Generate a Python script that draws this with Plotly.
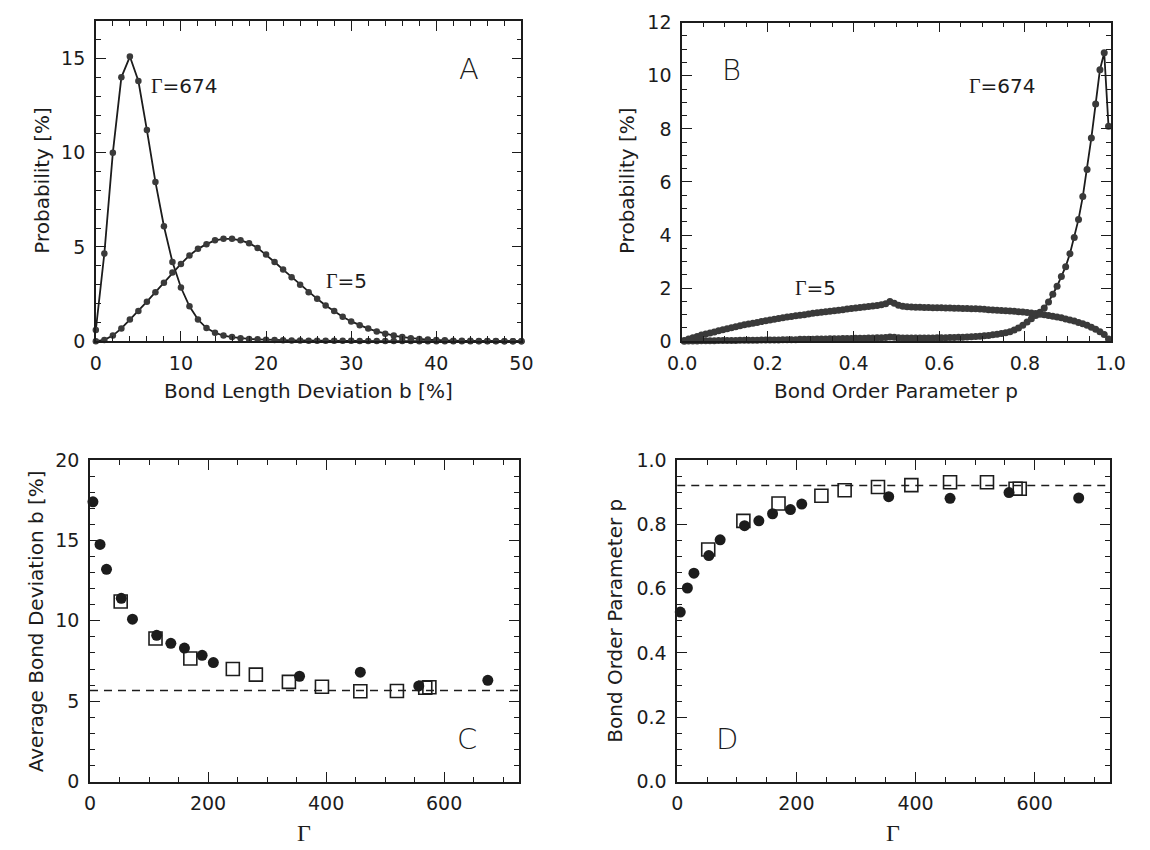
import plotly.graph_objects as go

# ---------------- data ----------------
# Panel A: bond length deviation histogram
b_dev = list(range(0, 51))
probA_674 = [0.6, 4.65, 10.0, 14.0, 15.1, 13.8, 11.2, 8.45, 6.1, 4.2,
             2.85, 1.85, 1.15, 0.7, 0.45, 0.3, 0.22, 0.16, 0.12, 0.1,
             0.08, 0.06, 0.05, 0.04, 0.04, 0.03, 0.03, 0.02, 0.02, 0.02,
             0.02, 0.01, 0.01, 0.01, 0.01, 0.01, 0.01, 0.01, 0.0, 0.0,
             0.0, 0.0, 0.0, 0.0, 0.0, 0.0, 0.0, 0.0, 0.0, 0.0,
             0.0]
probA_5 = [0.0, 0.07, 0.3, 0.68, 1.15, 1.6, 2.1, 2.6, 3.1, 3.65,
           4.1, 4.55, 4.9, 5.15, 5.35, 5.43, 5.43, 5.35, 5.2, 4.95,
           4.6, 4.2, 3.8, 3.4, 3.0, 2.6, 2.25, 1.9, 1.6, 1.3,
           1.05, 0.85, 0.67, 0.52, 0.4, 0.3, 0.22, 0.16, 0.12, 0.09,
           0.06, 0.05, 0.03, 0.02, 0.02, 0.01, 0.01, 0.01, 0.0, 0.0,
           0.0]

# Panel B: bond order parameter histogram (bin centres 0.005 ... 0.995)
p_bins = [round(0.005 + 0.01 * k, 3) for k in range(100)]
probB_674 = [0.00, 0.01, 0.01, 0.01, 0.02, 0.02, 0.02, 0.02, 0.03, 0.03,
             0.03, 0.03, 0.03, 0.04, 0.04, 0.04, 0.04, 0.04, 0.05, 0.05,
             0.05, 0.05, 0.05, 0.06, 0.06, 0.06, 0.06, 0.07, 0.07, 0.07,
             0.07, 0.08, 0.08, 0.08, 0.09, 0.09, 0.09, 0.10, 0.10, 0.10,
             0.11, 0.11, 0.11, 0.12, 0.12, 0.13, 0.13, 0.14, 0.16, 0.15,
             0.13, 0.12, 0.12, 0.12, 0.12, 0.12, 0.12, 0.12, 0.12, 0.13,
             0.13, 0.13, 0.14, 0.14, 0.15, 0.15, 0.16, 0.17, 0.18, 0.19,
             0.21, 0.22, 0.24, 0.26, 0.29, 0.32, 0.36, 0.42, 0.50, 0.60,
             0.72, 0.85, 0.97, 1.09, 1.25, 1.48, 1.77, 2.07, 2.44, 2.81,
             3.30, 3.91, 4.59, 5.45, 6.47, 7.66, 8.94, 10.23, 10.87, 8.10]
probB_5 = [0.03, 0.08, 0.13, 0.18, 0.23, 0.27, 0.31, 0.35, 0.39, 0.43,
           0.47, 0.51, 0.55, 0.58, 0.62, 0.65, 0.68, 0.71, 0.74, 0.77,
           0.80, 0.83, 0.86, 0.88, 0.91, 0.93, 0.96, 0.98, 1.00, 1.03,
           1.05, 1.07, 1.09, 1.11, 1.13, 1.15, 1.17, 1.19, 1.21, 1.23,
           1.25, 1.27, 1.29, 1.31, 1.33, 1.35, 1.37, 1.41, 1.50, 1.43,
           1.36, 1.32, 1.30, 1.29, 1.28, 1.28, 1.27, 1.27, 1.26, 1.26,
           1.26, 1.25, 1.25, 1.24, 1.24, 1.23, 1.23, 1.22, 1.22, 1.21,
           1.20, 1.19, 1.18, 1.17, 1.16, 1.15, 1.14, 1.13, 1.11, 1.10,
           1.08, 1.06, 1.04, 1.02, 1.00, 0.97, 0.94, 0.91, 0.88, 0.84,
           0.80, 0.76, 0.71, 0.66, 0.60, 0.53, 0.45, 0.36, 0.25, 0.08]

# Panels C and D: averages vs Gamma
gamma_circ = [5, 17, 28, 53, 72, 113, 137, 160, 190, 209, 355, 458, 557, 674]
bdev_circ = [17.4, 14.75, 13.2, 11.4, 10.1, 9.1, 8.6, 8.3, 7.85, 7.4, 6.55, 6.8, 5.95, 6.3]
order_circ = [0.527, 0.602, 0.648, 0.703, 0.752, 0.796, 0.811, 0.833, 0.846, 0.863, 0.886, 0.881, 0.899, 0.882]

gamma_sq = [52, 111, 170, 242, 281, 337, 393, 458, 520, 568, 575]
bdev_sq = [11.2, 8.9, 7.65, 7.0, 6.65, 6.2, 5.9, 5.62, 5.63, 5.83, 5.87]
order_sq = [0.722, 0.811, 0.865, 0.889, 0.906, 0.916, 0.922, 0.931, 0.931, 0.911, 0.911]

bdev_limit = 5.67
order_limit = 0.921

# ---------------- styling ----------------
W, H = 1150, 850
INK = "#1c1c1c"
MARK = "#3a3a3a"
SANS = "DejaVu Sans"
SERIF = "Liberation Serif"

boxes = {
    "A": dict(x=(83, 520), y=(10, 339)),
    "B": dict(x=(685, 1125), y=(12, 339)),
    "C": dict(x=(77, 517), y=(461, 791)),
    "D": dict(x=(680, 1124), y=(461, 791)),
}


def xdom(p):
    a, b = boxes[p]["x"]
    return [a / W, b / W]


def ydom(p):
    t, b = boxes[p]["y"]
    return [1 - b / H, 1 - t / H]


def axis(rng, dtick, minor, domain, anchor, fmt=None, standoff=5):
    d = dict(range=rng, dtick=dtick, tick0=0, domain=domain, anchor=anchor,
             showline=True, linecolor=INK, linewidth=1.6, mirror="allticks",
             ticks="inside", ticklen=10, tickwidth=1.4, tickcolor=INK,
             minor=dict(dtick=minor, tick0=0, ticks="inside", ticklen=5,
                        tickwidth=1.2, tickcolor=INK),
             showgrid=False, zeroline=False, ticklabelstandoff=standoff,
             tickfont=dict(family=SANS, size=19, color=INK))
    if fmt:
        d["tickformat"] = fmt
    return d


fig = go.Figure()

line_style = dict(color=INK, width=1.8)
dot_style = dict(size=6.5, color=MARK)
dense_dot = dict(size=7, color=MARK)

# Panel A
fig.add_trace(go.Scatter(x=b_dev, y=probA_674, mode="lines+markers", line=line_style,
                         marker=dot_style, xaxis="x", yaxis="y", cliponaxis=False))
fig.add_trace(go.Scatter(x=b_dev, y=probA_5, mode="lines+markers", line=line_style,
                         marker=dot_style, xaxis="x", yaxis="y", cliponaxis=False))
# Panel B
fig.add_trace(go.Scatter(x=p_bins, y=probB_674, mode="lines+markers", line=line_style,
                         marker=dense_dot, xaxis="x2", yaxis="y2", cliponaxis=False))
fig.add_trace(go.Scatter(x=p_bins, y=probB_5, mode="lines+markers", line=line_style,
                         marker=dense_dot, xaxis="x2", yaxis="y2", cliponaxis=False))
# Panel C
fig.add_trace(go.Scatter(x=gamma_circ, y=bdev_circ, mode="markers",
                         marker=dict(symbol="circle", size=11, color=INK),
                         xaxis="x3", yaxis="y3", cliponaxis=False))
fig.add_trace(go.Scatter(x=gamma_sq, y=bdev_sq, mode="markers",
                         marker=dict(symbol="square-open", size=13, color=INK,
                                     line=dict(width=1.6, color=INK)),
                         xaxis="x3", yaxis="y3", cliponaxis=False))
# Panel D
fig.add_trace(go.Scatter(x=gamma_circ, y=order_circ, mode="markers",
                         marker=dict(symbol="circle", size=11, color=INK),
                         xaxis="x4", yaxis="y4", cliponaxis=False))
fig.add_trace(go.Scatter(x=gamma_sq, y=order_sq, mode="markers",
                         marker=dict(symbol="square-open", size=13, color=INK,
                                     line=dict(width=1.6, color=INK)),
                         xaxis="x4", yaxis="y4", cliponaxis=False))

fig.add_shape(type="line", xref="x3 domain", yref="y3", x0=0, x1=1,
              y0=bdev_limit, y1=bdev_limit, line=dict(color=INK, width=1.5, dash="8px,6px"))
fig.add_shape(type="line", xref="x4 domain", yref="y4", x0=0, x1=1,
              y0=order_limit, y1=order_limit, line=dict(color=INK, width=1.5, dash="8px,6px"))


def px(x):
    return x / W


def py(y):
    return 1 - y / H


G = "<span style='font-family:%s'>Γ</span>" % SERIF
ann = []


def note(text, x, y, size=20, angle=0, xanchor="center", family=SANS, weight=None):
    f = dict(family=family, size=size, color=INK)
    if weight:
        f["weight"] = weight
    ann.append(dict(text=text, x=px(x), y=py(y), xref="paper", yref="paper",
                    xanchor=xanchor, yanchor="middle", showarrow=False,
                    textangle=angle, font=f))


# axis titles
note("Bond Length Deviation b [%]", 301, 390)
note("Bond Order Parameter p", 905, 390)
note("Γ", 297, 844, size=24, family=SERIF)
note("Γ", 902, 844, size=24, family=SERIF)
note("Probability [%]", 28, 174, angle=-90)
note("Probability [%]", 629, 174, angle=-90)
note("Average Bond Deviation b [%]", 21, 626, angle=-90)
note("Bond Order Parameter p", 616, 626, angle=-90)

# curve labels
note(G + "=674", 138, 77, size=20, xanchor="left")
note(G + "=5", 317, 277, size=20, xanchor="left")
note(G + "=674", 977, 77, size=20, xanchor="left")
note(G + "=5", 799, 284, size=20, xanchor="left")

# panel letters
note("A", 466, 60, size=29, weight=300)
note("B", 736, 61, size=29, weight=300)
note("C", 464, 747, size=29, weight=300)
note("D", 731, 747, size=29, weight=300)

fig.update_layout(
    width=W, height=H,
    margin=dict(l=0, r=0, t=0, b=0),
    paper_bgcolor="white", plot_bgcolor="white",
    showlegend=False,
    font=dict(family=SANS, color=INK),
    xaxis=axis([0, 50], 10, 2, xdom("A"), "y", standoff=4),
    yaxis=axis([0, 17], 5, 1, ydom("A"), "x"),
    xaxis2=axis([0, 1], 0.2, 0.05, xdom("B"), "y2", fmt=".1f", standoff=4),
    yaxis2=axis([0, 12], 2, 0.5, ydom("B"), "x2"),
    xaxis3=axis([0, 726], 200, 50, xdom("C"), "y3", standoff=4),
    yaxis3=axis([0, 20], 5, 1, ydom("C"), "x3"),
    xaxis4=axis([0, 726], 200, 50, xdom("D"), "y4", standoff=4),
    yaxis4=axis([0, 1], 0.2, 0.05, ydom("D"), "x4", fmt=".1f"),
    annotations=ann,
)

fig.write_html("out.html", config={"displayModeBar": False},
               post_script="document.body.style.margin='0';")
